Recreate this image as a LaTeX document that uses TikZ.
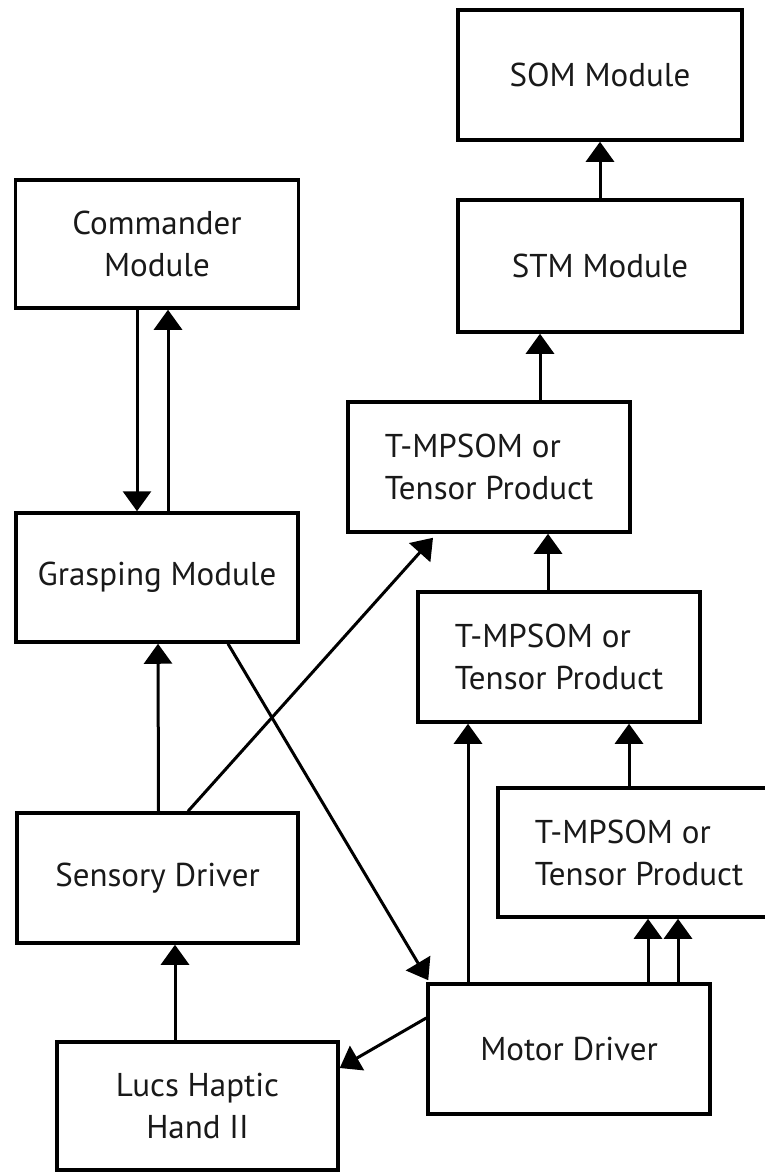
\documentclass[tikz,border=0pt]{standalone}
\usepackage{fontspec}
\setmainfont{PT Sans}
\usetikzlibrary{arrows.meta}
\tikzset{
  box/.style={draw=black, line width=3.5pt, rectangle, inner sep=0pt,
    font=\fontsize{33}{42}\selectfont, text=black!90, align=center},
  tbox/.style={box, align=left},
  arr/.style={line width=3pt, -{Triangle[width=28pt,length=20pt]}},
}
\begin{document}
\begin{tikzpicture}[x=1pt,y=-1pt]
\useasboundingbox (0,0) rectangle (765,1172);
\node[box, minimum width=284pt, minimum height=130pt] (som) at (600,75) {SOM Module};
\node[box, minimum width=284pt, minimum height=132pt] (stm) at (600,266) {STM Module};
\node[box, minimum width=283pt, minimum height=128pt] (cmd) at (157,244) {Commander\\Module};
\node[box, minimum width=282pt, minimum height=129pt] (grasp) at (157,577.5) {Grasping Module};
\node[tbox, minimum width=282pt, minimum height=130pt] (t1) at (489,467) {T-MPSOM or\\Tensor Product};
\node[tbox, minimum width=282pt, minimum height=130pt] (t2) at (559,657) {T-MPSOM or\\Tensor Product};
\node[tbox, minimum width=282pt, minimum height=129pt] (t3) at (639,852.5) {T-MPSOM or\\Tensor Product};
\node[box, minimum width=281pt, minimum height=130pt] (sens) at (157.5,878) {Sensory Driver};
\node[box, minimum width=282pt, minimum height=130pt] (motor) at (569,1049) {Motor Driver};
\node[box, minimum width=281pt, minimum height=128pt] (lucs) at (197.5,1106) {Lucs Haptic\\Hand II};

\draw[arr] ([xshift=-20pt]cmd.south) -- ([xshift=-20pt]grasp.north);
\draw[arr] ([xshift=11pt]grasp.north) -- ([xshift=11pt]cmd.south);
\draw[arr] ([xshift=1pt]sens.north) -- ([xshift=1pt]grasp.south);
\draw[arr] ([xshift=-22.5pt]lucs.north) -- ([xshift=17.5pt]sens.north |- sens.south);
\draw[arr] ([xshift=30.5pt]sens.north) -- ([xshift=-56pt,yshift=-4pt]t1.south);
\draw[arr] ([xshift=71pt]grasp.south) -- ([xshift=2pt,yshift=2pt]motor.north west);
\draw[arr] ([yshift=31pt]motor.west) -- ([yshift=38pt]lucs.east);
\draw[arr] ([xshift=-101pt]motor.north) -- ([xshift=-91pt]t2.south);
\draw[arr] ([xshift=79pt]motor.north) -- ([xshift=9pt]t3.south);
\draw[arr] ([xshift=109pt]motor.north) -- ([xshift=39pt]t3.south);
\draw[arr] ([xshift=-10pt]t3.north) -- ([xshift=70pt]t2.south);
\draw[arr] ([xshift=-11pt]t2.north) -- ([xshift=59pt]t1.south);
\draw[arr] ([xshift=51pt]t1.north) -- ([xshift=-60pt]stm.south);
\draw[arr] (stm.north) -- (som.south);
\end{tikzpicture}
\end{document}
